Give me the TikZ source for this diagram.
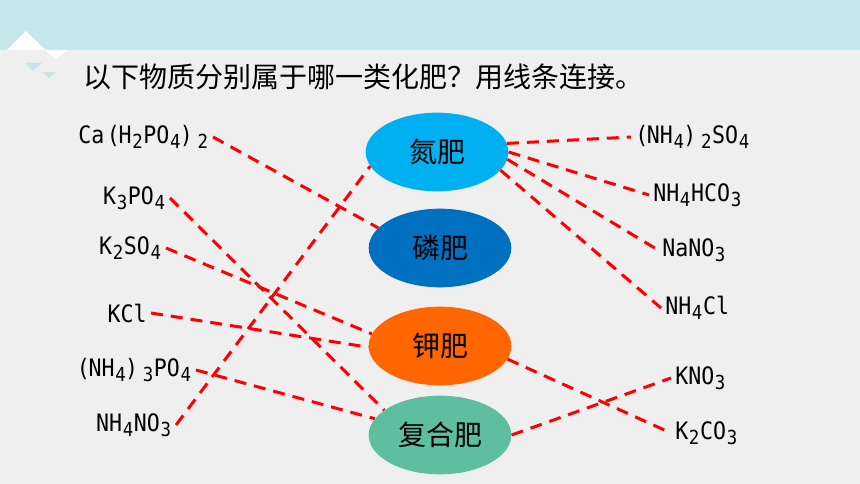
\documentclass[tikz,border=0pt]{standalone}
\usepackage{fontspec}
\setmainfont{Noto Sans CJK SC}
\newfontfamily\chemfont[FakeStretch=0.9]{DejaVu Sans Mono}
\usetikzlibrary{positioning}
\usetikzlibrary{shapes.geometric}
\definecolor{headblue}{HTML}{C5E6EB}
\definecolor{paper}{HTML}{EFEFEF}
\definecolor{nitro}{HTML}{00B0F0}
\definecolor{phos}{HTML}{0070C0}
\definecolor{potas}{HTML}{FF6600}
\definecolor{mixed}{HTML}{5DBF9F}
\definecolor{tipgreen}{HTML}{C6E8DC}
\newcommand{\chemsub}[1]{\kern0.5pt\raisebox{-3.5pt}{\fontsize{14.5}{14.5}\selectfont #1}\kern0.5pt}
\newcommand{\chemlp}{\kern2pt(\kern-1pt}
\newcommand{\chemrp}{\kern-1pt)\kern3pt}
\tikzset {
  x=0.75pt, y=-0.75pt,
  % fertilizer kinds
  kind/.style = {ellipse, minimum width=107pt, minimum height=59pt, inner sep=0pt, font=\fontsize{21}{21}\selectfont},
  nitrogen/.style={kind, fill=nitro},
  phosphorus/.style={kind, fill=phos},
  potassium/.style={kind, fill=potas},
  compound/.style={kind, fill=mixed},
  % the salts to sort
  salt/.style={font=\chemfont\fontsize{18}{18}\selectfont, inner sep=3pt},
  % answer lines
  link/.style={red, line width=2.25pt, dash pattern=on 9pt off 6pt},
}
\begin{document}
\begin{tikzpicture}
        \useasboundingbox (0,0) rectangle (860,484);
        \fill[paper] (0,0) rectangle (860,484);
        \fill[headblue] (0,0) rectangle (860,50);
        \fill[white] (7,50) -- (26,31) -- (56,60) -- (67,50) -- cycle;
        \fill[headblue] (25,63) -- (42,63) -- (33,71) -- cycle;
        \fill[tipgreen] (42,72) -- (56,72) -- (49,78) -- cycle;

        \node[anchor=west, inner sep=0pt, font=\fontsize{21}{21}\selectfont] (title) at (83,77) {以下物质分别属于哪一类化肥？用线条连接。};

        \node[nitrogen] (n) at (437,152) {氮肥};
        \node[phosphorus] (p) at (440,248) {磷肥};
        \node[potassium] (k) at (440,346) {钾肥};
        \node[compound] (c) at (440,435) {复合肥};

        \node[salt, anchor=east] (cah) at (213,137) {Ca\chemlp H\chemsub2PO\chemsub4\chemrp\chemsub2};
        \node[salt, anchor=east] (k3p) at (170,198) {K\chemsub3PO\chemsub4};
        \node[salt, anchor=east] (k2s) at (166,248) {K\chemsub2SO\chemsub4};
        \node[salt, anchor=east] (kcl) at (151,313) {KCl};
        \node[salt, anchor=east] (nh3p) at (196,370) {(\kern-1pt NH\chemsub4\chemrp\chemsub3PO\chemsub4};
        \node[salt, anchor=east] (nh4n) at (176,425) {NH\chemsub4NO\chemsub3};

        \node[salt, anchor=west] (nhs) at (631,137) {(\kern-1pt NH\chemsub4\chemrp\chemsub2SO\chemsub4};
        \node[salt, anchor=west] (nhc) at (649,195) {NH\chemsub4HCO\chemsub3};
        \node[salt, anchor=west] (nan) at (658,250) {NaNO\chemsub3};
        \node[salt, anchor=west] (nhcl) at (661,308) {NH\chemsub4Cl};
        \node[salt, anchor=west] (kn) at (671,378) {KNO\chemsub3};
        \node[salt, anchor=west] (kc) at (671,433) {K\chemsub2CO\chemsub3};

        \draw[link] (cah.east) -- (p.162);
        \draw[link] (k3p.east) -- (c.156);
        \draw[link] (k2s.east) -- (k.170);
        \draw[link] (kcl.east) -- (k.181);
        \draw[link] (nh3p.east) -- (c.166);
        \draw[link] (nh4n.east) -- (n.192);
        \draw[link] (n.7) -- (nhs.west);
        \draw[link] (n.0) -- (nhc.west);
        \draw[link] (n.-6) -- (nan.west);
        \draw[link] (n.-16) -- (nhcl.west);
        \draw[link] (k.-11) -- (kc.west);
        \draw[link] (c.0) -- (kn.west);
      \end{tikzpicture}
\end{document}
